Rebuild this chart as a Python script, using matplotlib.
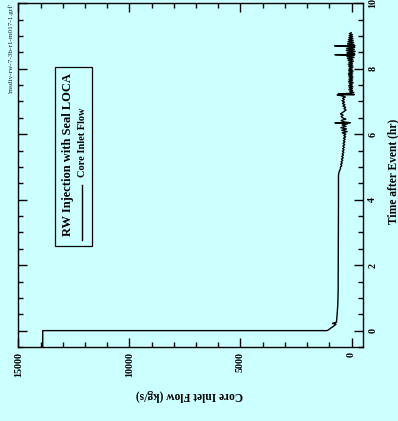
import matplotlib
matplotlib.use('Agg')
import matplotlib.pyplot as plt
from matplotlib.patches import Rectangle
from matplotlib.ticker import MultipleLocator

# Core inlet flow (kg/s) vs time after event (hr)
time_hr = [-1.0, 0.0, 0.0, 0.02, 0.08, 0.15, 0.20, 0.22, 0.26, 0.50, 0.80, 1.20,
           2.00, 3.00, 4.00, 4.75, 4.85, 4.95,
           5.00, 5.04, 5.08, 5.12, 5.16, 5.20, 5.24, 5.28, 5.32, 5.36,
           5.40, 5.44, 5.48, 5.52, 5.56, 5.60, 5.64, 5.68, 5.72, 5.76,
           5.80, 5.84, 5.88, 5.92, 5.96, 6.00,
           6.04, 6.08, 6.12, 6.16, 6.20, 6.24, 6.28, 6.32,
           6.35, 6.35, 6.38, 6.42, 6.46, 6.50,
           6.54, 6.58, 6.62, 6.66, 6.70, 6.74, 6.78, 6.82, 6.86, 6.90,
           6.94, 6.98, 7.02, 7.06, 7.10, 7.14,
           7.18, 7.20, 7.21, 7.23, 7.25, 7.27,
           7.30, 7.33, 7.36, 7.39, 7.42, 7.45, 7.48, 7.51, 7.54, 7.57,
           7.60, 7.63, 7.66, 7.69, 7.72, 7.75, 7.78, 7.81, 7.84, 7.87,
           7.90, 7.93, 7.96, 7.99, 8.02, 8.05, 8.08, 8.11, 8.14, 8.17,
           8.20, 8.23, 8.26, 8.29, 8.32, 8.35, 8.38, 8.41,
           8.43, 8.43,
           8.44, 8.47, 8.50, 8.53, 8.56, 8.59, 8.62, 8.65, 8.68,
           8.70, 8.70,
           8.71, 8.74, 8.77, 8.80, 8.83, 8.86, 8.89, 8.92, 8.95, 8.98,
           9.01, 9.04, 9.07, 9.10]
flow_kgs = [13900, 13900, 1100, 1050, 930, 780, 700, 860, 680, 650, 620, 605,
            600, 595, 590, 590, 560, 500,
            500, 440, 490, 420, 470, 400, 450, 380, 440, 370,
            420, 350, 410, 340, 400, 330, 390, 310, 380, 300,
            370, 290, 360, 270, 350, 260,
            420, 200, 440, 230, 480, 250, 420, 180,
            750, 60, 380, 470, 260, 400,
            470, 380, 500, 410, 330, 250, 340, 270, 390, 300,
            410, 320, 430, 330, 400, 280,
            480, 650, -120, 600, 50, -100,
            80, -50, 120, -40, 110, -60, 130, -30, 100, -70,
            140, -40, 120, -50, 110, -60, 130, -40, 150, -50,
            120, -70, 140, -30, 110, -60, 130, -50, 150, -40,
            120, -80, 160, -60, 190, -110, 210, -90,
            750, -150,
            230, -130, 200, -160, 240, -120, 220, -140, 190,
            760, -150,
            200, -110, 180, -90, 160, -70, 140, -60, 120, -50,
            110, -40, 100, 20]

flow_ticks = [0, 5000, 10000, 15000]
time_ticks = [0, 2, 4, 6, 8, 10]

bg = '#ccffff'
serif = ['Liberation Serif', 'DejaVu Serif']

fig = plt.figure(figsize=(3.98, 4.21), dpi=100, facecolor=bg)
ax = fig.add_axes([0.046, 0.1758, 0.8653, 0.8164], facecolor=bg)

# plot is drawn rotated: flow on the horizontal (reversed), time vertical
ax.plot(flow_kgs, time_hr, color='black', linewidth=1.0)
ax.set_xlim(15000, -500)
ax.set_ylim(-0.5, 10)

ax.set_xticks(flow_ticks)
ax.set_yticks(time_ticks)
ax.xaxis.set_minor_locator(MultipleLocator(1000))
ax.yaxis.set_minor_locator(MultipleLocator(0.5))
ax.tick_params(which='both', direction='in', top=True, bottom=True,
               left=True, right=True, labelleft=False, labelright=True,
               width=1.0, color='black')
ax.tick_params(which='major', length=6.5)
ax.tick_params(which='minor', length=3.5)
ax.tick_params(axis='x', pad=3.5)
ax.tick_params(axis='y', pad=4)
for lab in ax.get_xticklabels():
    lab.set_rotation(90)
    lab.set_fontfamily(serif)
    lab.set_fontweight('bold')
    lab.set_fontsize(7.2)
    lab.set_va('top')
for lab in ax.get_yticklabels():
    lab.set_rotation(90)
    lab.set_fontfamily(serif)
    lab.set_fontweight('bold')
    lab.set_fontsize(7.2)
    lab.set_va('center')
for sp in ax.spines.values():
    sp.set_linewidth(1.0)

fig.text(0.477, 0.062, 'Core Inlet Flow (kg/s)', rotation=180, ha='center',
         va='center', family=serif, fontweight='bold', fontsize=8.3)
fig.text(0.987, 0.594, 'Time after Event (hr)', rotation=90, ha='center',
         va='center', family=serif, fontweight='bold', fontsize=8.3)
fig.text(0.028, 0.886, "'msdiv-rw-7-3b-r1-m017-1.grf'", rotation=90,
         ha='center', va='center', family=serif, fontsize=5.2, color='#222222')

# legend box, drawn by hand because it is rotated
ax.add_patch(Rectangle((0.1066, 0.2939), 0.1074, 0.5208, transform=ax.transAxes,
                       facecolor='none', edgecolor='black', linewidth=0.9))
ax.text(0.1443, 0.5586, 'RW Injection with Seal LOCA', transform=ax.transAxes,
        rotation=90, ha='center', va='center', family=serif,
        fontweight='bold', fontsize=9)
ax.plot([0.185, 0.185], [0.311, 0.471], transform=ax.transAxes,
        color='black', linewidth=1.0)
ax.text(0.185, 0.595, 'Core Inlet Flow', transform=ax.transAxes,
        rotation=90, ha='center', va='center', family=serif,
        fontweight='bold', fontsize=7.5)

fig.savefig('out.png', dpi=100, facecolor=bg)
